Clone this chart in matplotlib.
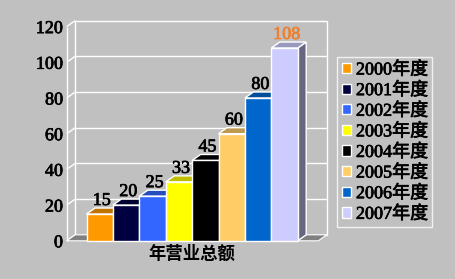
import matplotlib
matplotlib.use('Agg')
import matplotlib.pyplot as plt
from matplotlib.patches import Polygon
import matplotlib.colors as mcolors
import matplotlib.patheffects as pe

# ---- data ----
categories = ['2000年度', '2001年度', '2002年度', '2003年度',
              '2004年度', '2005年度', '2006年度', '2007年度']
values = [15, 20, 25, 33, 45, 60, 80, 108]
colors = ['#FF9900', '#000040', '#3366FF', '#FFFF00',
          '#000000', '#FFCC66', '#0066CC', '#CCCCFF']
label_colors = ['black'] * 7 + ['#EE7F2D']
yticks = [0, 20, 40, 60, 80, 100, 120]
xlabel = '年营业总额'

plt.rcParams['font.family'] = ['Liberation Serif', 'Noto Sans CJK SC']

BG = '#C0C0C0'
W, H = 455, 279
fig = plt.figure(figsize=(W / 100, H / 100), dpi=100, facecolor=BG)


def heavy(color):
    return [pe.withStroke(linewidth=0.5, foreground=color)]


# layout in pixels
px_x = 26.4      # px per category
px_y = 1.785     # px per value unit
x0_px = 86.5     # first bar left edge
y0_px = 240.8    # value 0 (front)
ax_l, ax_r, ax_t, ax_b = 66.7, 336, 10, 250

ax = fig.add_axes([ax_l / W, 1 - ax_b / H, (ax_r - ax_l) / W, (ax_b - ax_t) / H])
ax.set_facecolor('none')
ax.set_xlim((ax_l - x0_px) / px_x, (ax_r - x0_px) / px_x)
ax.set_ylim((y0_px - ax_b) / px_y, (y0_px - ax_t) / px_y)
for s in ax.spines.values():
    s.set_visible(False)

dx = 8.5 / px_x
dy = 6.0 / px_y
n = len(values)
xl = ax.get_xlim()[0]
xr = n + 0.78
ymax = yticks[-1]

lw = 1.0
wkw = dict(color='white', lw=lw, clip_on=False, solid_capstyle='butt')
# back wall gridlines and left wall diagonals
for v in yticks:
    ax.plot([xl + dx, xr + dx], [v + dy, v + dy], zorder=1, **wkw)
    ax.plot([xl, xl + dx], [v, v + dy], zorder=1, **wkw)
ax.plot([xl, xl], [0, ymax], zorder=1, **wkw)
ax.plot([xl + dx, xl + dx], [dy, ymax + dy], zorder=1, **wkw)
ax.plot([xr + dx, xr + dx], [dy, ymax + dy], zorder=1, **wkw)

# floor
ax.add_patch(Polygon([(xl, 0), (xr, 0), (xr + dx, dy), (xl + dx, dy)],
                     closed=True, facecolor='#808080', edgecolor='white',
                     lw=0.8, zorder=2, clip_on=False))


def shade(c, f):
    r, g, b = mcolors.to_rgb(c)
    return (r * f, g * f, b * f)


bars = ax.bar(range(n), values, width=1.0, align='edge', color=colors,
              edgecolor='white', linewidth=lw, zorder=5)
for i, (v, c) in enumerate(zip(values, colors)):
    z = 3 + i * 3
    side = Polygon([(i + 1, 0), (i + 1 + dx, dy), (i + 1 + dx, v + dy), (i + 1, v)],
                   closed=True, facecolor=shade(c, 0.5), edgecolor='white', lw=lw, zorder=z)
    top = Polygon([(i, v), (i + 1, v), (i + 1 + dx, v + dy), (i + dx, v + dy)],
                  closed=True, facecolor=shade(c, 0.75), edgecolor='white', lw=lw, zorder=z + 1)
    ax.add_patch(side)
    ax.add_patch(top)
    bars.patches[i].set_zorder(z + 2)
    ax.text(i + 0.5 + 0.08, v + dy + 1.7, str(v), ha='center', va='baseline',
            fontsize=13, color=label_colors[i], zorder=40,
            path_effects=heavy(label_colors[i]))

ax.set_xticks([])
ax.set_yticks(yticks)
ax.set_yticklabels([str(t) for t in yticks], fontsize=13)
for t in ax.get_yticklabels():
    t.set_path_effects(heavy('black'))
ax.tick_params(axis='y', length=0, pad=2.8)

ax.text(n / 2, (y0_px - 254) / px_y, xlabel, ha='center', va='center',
        fontsize=12.5, fontweight='bold', family=['Noto Sans CJK SC'], clip_on=False)

leg = fig.legend(bars.patches, categories, loc='upper left',
                 bbox_to_anchor=(337 / W, 1 - 57 / H), borderaxespad=0,
                 frameon=True, fancybox=False, fontsize=13,
                 handlelength=0.5, handleheight=0.5, handletextpad=0.3,
                 labelspacing=0.2, borderpad=0.25)
leg.get_frame().set_edgecolor('white')
leg.get_frame().set_facecolor('none')
leg.get_frame().set_linewidth(1.0)
for t in leg.get_texts():
    t.set_path_effects(heavy('black'))

fig.savefig('out.png', dpi=100, facecolor=BG)
